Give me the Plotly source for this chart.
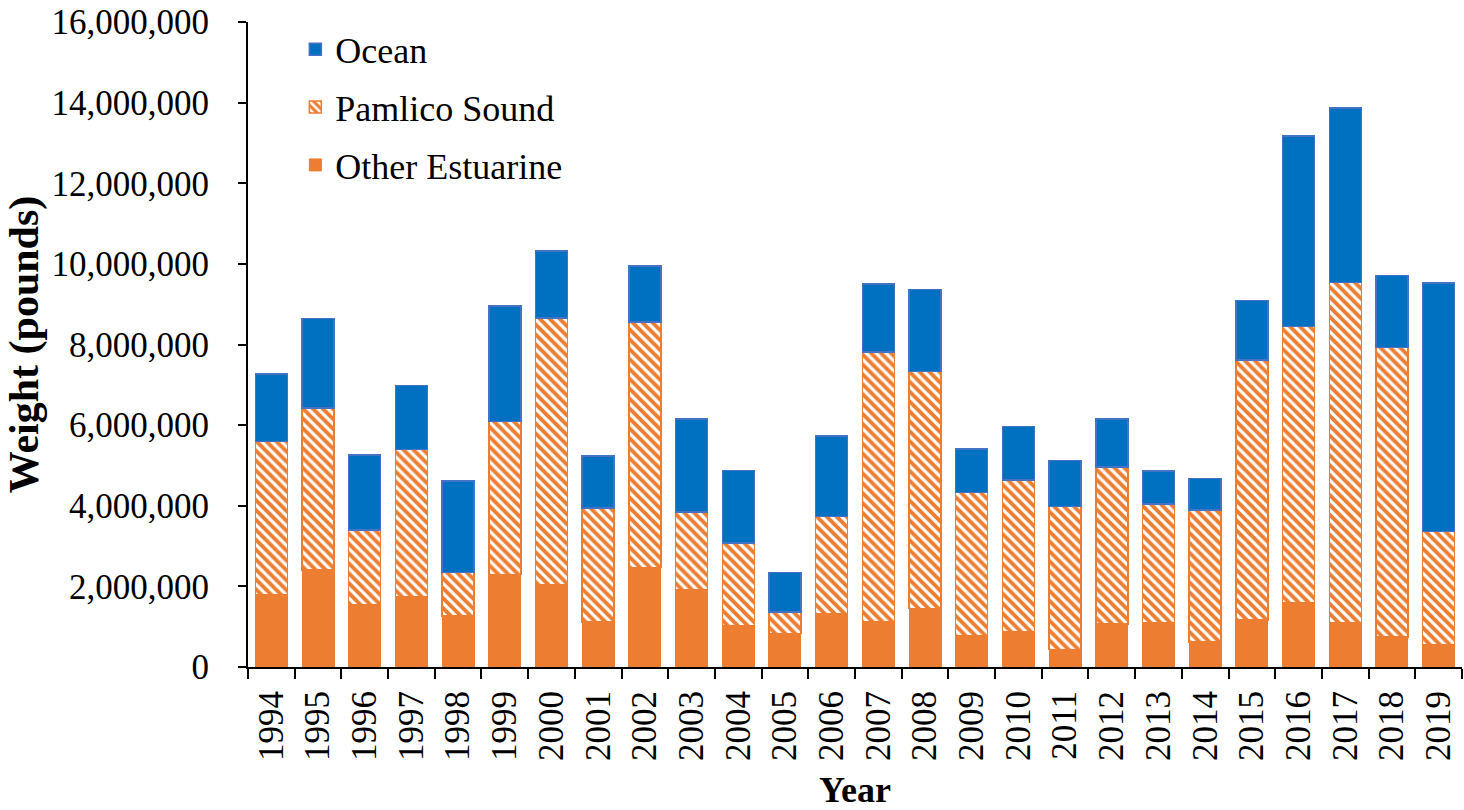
import plotly.graph_objects as go

years = [str(y) for y in range(1994, 2020)]
other_estuarine = [1790000, 2410000, 1540000, 1750000, 1270000, 2300000, 2030000, 1120000, 2470000, 1910000,
                   1020000, 830000, 1310000, 1120000, 1450000, 770000, 880000, 440000, 1070000, 1100000,
                   620000, 1170000, 1590000, 1100000, 750000, 560000]
pamlico_sound = [3800000, 4020000, 1860000, 3650000, 1070000, 3790000, 6630000, 2820000, 6090000, 1940000,
                 2060000, 530000, 2420000, 6700000, 5880000, 3560000, 3760000, 3540000, 3890000, 2940000,
                 3280000, 6440000, 6860000, 8440000, 7170000, 2800000]
ocean = [1680000, 2210000, 1860000, 1580000, 2280000, 2870000, 1660000, 1300000, 1390000, 2300000,
         1790000, 990000, 2000000, 1680000, 2030000, 1080000, 1320000, 1140000, 1190000, 820000,
         780000, 1480000, 4720000, 4330000, 1790000, 6160000]
y_ticks = [0, 2000000, 4000000, 6000000, 8000000, 10000000, 12000000, 14000000, 16000000]

ORANGE = "#ED7D31"
BLUE = "#0070C0"
FONT = "Liberation Serif"

fig = go.Figure()
fig.add_trace(go.Bar(
    x=years, y=other_estuarine, name="Other Estuarine", legendgroup="c", legendrank=3,
    marker=dict(color=ORANGE, line=dict(color=ORANGE, width=1)),
))
fig.add_trace(go.Bar(
    x=years, y=pamlico_sound, name="Pamlico Sound", legendgroup="b", legendrank=2,
    marker=dict(color=ORANGE, line=dict(color=ORANGE, width=1.5),
                pattern=dict(shape="\\", fgcolor="white", bgcolor=ORANGE,
                             size=7, solidity=0.45, fillmode="replace")),
))
fig.add_trace(go.Bar(
    x=years, y=ocean, name="Ocean", legendgroup="a", legendrank=1,
    marker=dict(color=BLUE, line=dict(color="#4472C4", width=1.5)),
))

fig.update_layout(
    barmode="stack",
    bargap=0.315,
    width=1464, height=810,
    margin=dict(l=248, r=2, t=22, b=143),
    paper_bgcolor="white", plot_bgcolor="white",
    font=dict(family=FONT, size=35, color="black"),
    showlegend=True,
    legend=dict(x=0.039, y=1.004, xanchor="left", yanchor="top",
                traceorder="grouped", tracegroupgap=8,
                font=dict(family=FONT, size=36, color="black"),
                bgcolor="rgba(0,0,0,0)"),
    xaxis=dict(
        type="category", tickson="boundaries", ticks="outside", ticklen=10,
        tickwidth=2, tickcolor="black", showline=True, linecolor="black",
        linewidth=2, tickangle=-90, showgrid=False, automargin=False,
        ticklabeloverflow="allow",
        tickfont=dict(family=FONT, size=35, color="black"),
        ticklabelstandoff=8,
        title=dict(text="<b>Year</b>", font=dict(family=FONT, size=36, color="black"),
                   standoff=22),
    ),
    yaxis=dict(
        range=[0, 16000000], tickvals=y_ticks, tickformat=",d",
        ticks="outside", ticklen=8, tickwidth=2, tickcolor="black",
        showline=True, linecolor="black", linewidth=2, showgrid=False,
        zeroline=False, automargin=False, ticklabeloverflow="allow",
        tickfont=dict(family=FONT, size=35, color="black"),
        ticklabelstandoff=22,
        title=dict(text="<b>Weight (pounds)</b>", font=dict(family=FONT, size=42, color="black"),
                   standoff=0),
    ),
)

fig.write_html("out.html", config={"displayModeBar": False},
               post_script="document.body.style.margin='0';")
